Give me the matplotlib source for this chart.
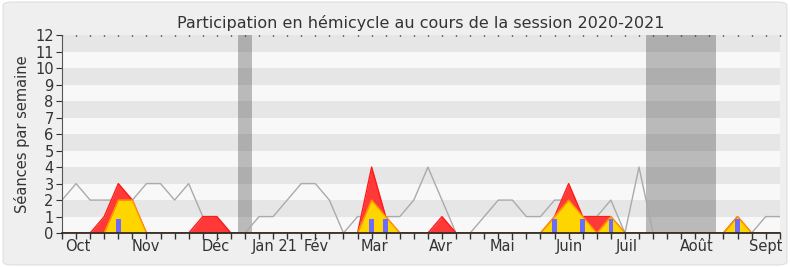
import numpy as np
import matplotlib.pyplot as plt
from matplotlib.patches import FancyBboxPatch

# one value per week, from early Oct 2020 to early Sept 2021
weeks = list(range(52))
seances = [2, 3, 2, 2, 2, 2, 3, 3, 2, 3, 1, 1, 0, 0, 1, 1, 2, 3, 3, 2,
           0, 1, 1, 1, 1, 2, 4, 2, 0, 0, 1, 2, 2, 1, 1, 2, 2, 1, 1, 2,
           0, 4, 0, 0, 0, 0, 0, 0, 1, 0, 1, 1]
presence = [0, 0, 0, 1, 3, 2, 0, 0, 0, 0, 1, 1, 0, 0, 0, 0, 0, 0, 0, 0,
            0, 0, 4, 1, 0, 0, 0, 1, 0, 0, 0, 0, 0, 0, 0, 1, 3, 1, 1, 1,
            0, 0, 0, 0, 0, 0, 0, 0, 1, 0, 0, 0]
participation = [0, 0, 0, 0, 2, 2, 0, 0, 0, 0, 0, 0, 0, 0, 0, 0, 0, 0, 0, 0,
                 0, 0, 2, 1, 0, 0, 0, 0, 0, 0, 0, 0, 0, 0, 0, 1, 2, 1, 0, 1,
                 0, 0, 0, 0, 0, 0, 0, 0, 1, 0, 0, 0]
questions = [0, 0, 0, 0, 0.85, 0, 0, 0, 0, 0, 0, 0, 0, 0, 0, 0, 0, 0, 0, 0,
             0, 0, 0.85, 0.85, 0, 0, 0, 0, 0, 0, 0, 0, 0, 0, 0, 0.85, 0, 0.85, 0, 0.85,
             0, 0, 0, 0, 0, 0, 0, 0, 0.85, 0, 0, 0]
vacances = [(12.5, 13.5), (41.5, 46.5)]

month_pos = [1.1, 5.95, 10.95, 15.1, 18.05, 22.2, 26.95, 31.3, 36.05, 40.1, 45.1, 50.0]
month_labels = ["Oct", "Nov", "Déc", "Jan 21", "Fév", "Mar", "Avr", "Mai",
                "Juin", "Juil", "Août", "Sept"]

fig = plt.figure(figsize=(7.9, 2.67), dpi=100, facecolor="white")
fig.patches.append(FancyBboxPatch((0.004, 0.008), 0.992, 0.984,
                                  boxstyle="round,pad=0,rounding_size=0.012",
                                  transform=fig.transFigure, facecolor="#efefef",
                                  edgecolor="#e2e2e2", lw=1, zorder=-10))
ax = fig.add_axes([0.0785, 0.127, 0.9085, 0.7416])
ax.set_facecolor("#f8f8f8")

# horizontal bands
for y in range(1, 12, 2):
    ax.axhspan(y, y + 1, color="#e6e6e6", lw=0, zorder=0)
for a, b in vacances:
    ax.axvspan(a, b, color="#3c3c3c", alpha=0.33, lw=0, zorder=1)

ax.plot(weeks, seances, color="#aaaaaa", lw=1, zorder=2)
ax.fill_between(weeks, presence, color="#ff3838", lw=0, zorder=3)
ax.plot(weeks, presence, color="#ff1a1a", lw=1, zorder=3)
ax.fill_between(weeks, participation, color="#ffd500", lw=0, zorder=4)
ax.plot(weeks, participation, color="#ff9900", lw=1, zorder=4)
ax.bar(weeks, questions, width=0.33, color="#6b6bff", zorder=5)

ax.set_xlim(0, 51)
ax.set_ylim(0, 12)
ax.set_yticks(range(13))
ax.tick_params(axis="y", direction="out", length=4, labelsize=10.5, colors="#333333", pad=2)
# weekly ticks as major, month names as minor labels without marks
ax.xaxis.remove_overlapping_locs = False
ax.set_xticks(weeks, [""] * len(weeks))
ax.tick_params(axis="x", which="major", direction="out", length=4, width=1, color="#333333")
ax.set_xticks(month_pos, month_labels, minor=True)
ax.tick_params(axis="x", which="minor", length=0, labelsize=10.5, labelcolor="#333333", pad=4)

# small dots along the top edge
top = ax.secondary_xaxis("top")
top.set_xticks(weeks)
top.tick_params(direction="in", length=1, width=1, labeltop=False, color="black")
top.spines["top"].set_visible(False)

for s in ["top", "right"]:
    ax.spines[s].set_visible(False)
ax.spines["left"].set_color("#555555")
ax.spines["bottom"].set_color("#222222")
ax.spines["bottom"].set_linewidth(1.2)
ax.spines["bottom"].set_zorder(10)

ax.set_ylabel("Séances par semaine", fontsize=10.5, color="#333333", labelpad=4)
ax.set_title("Participation en hémicycle au cours de la session 2020-2021",
             fontsize=11.5, color="#333333", pad=5)

fig.savefig("out.png", dpi=100, facecolor=fig.get_facecolor())
